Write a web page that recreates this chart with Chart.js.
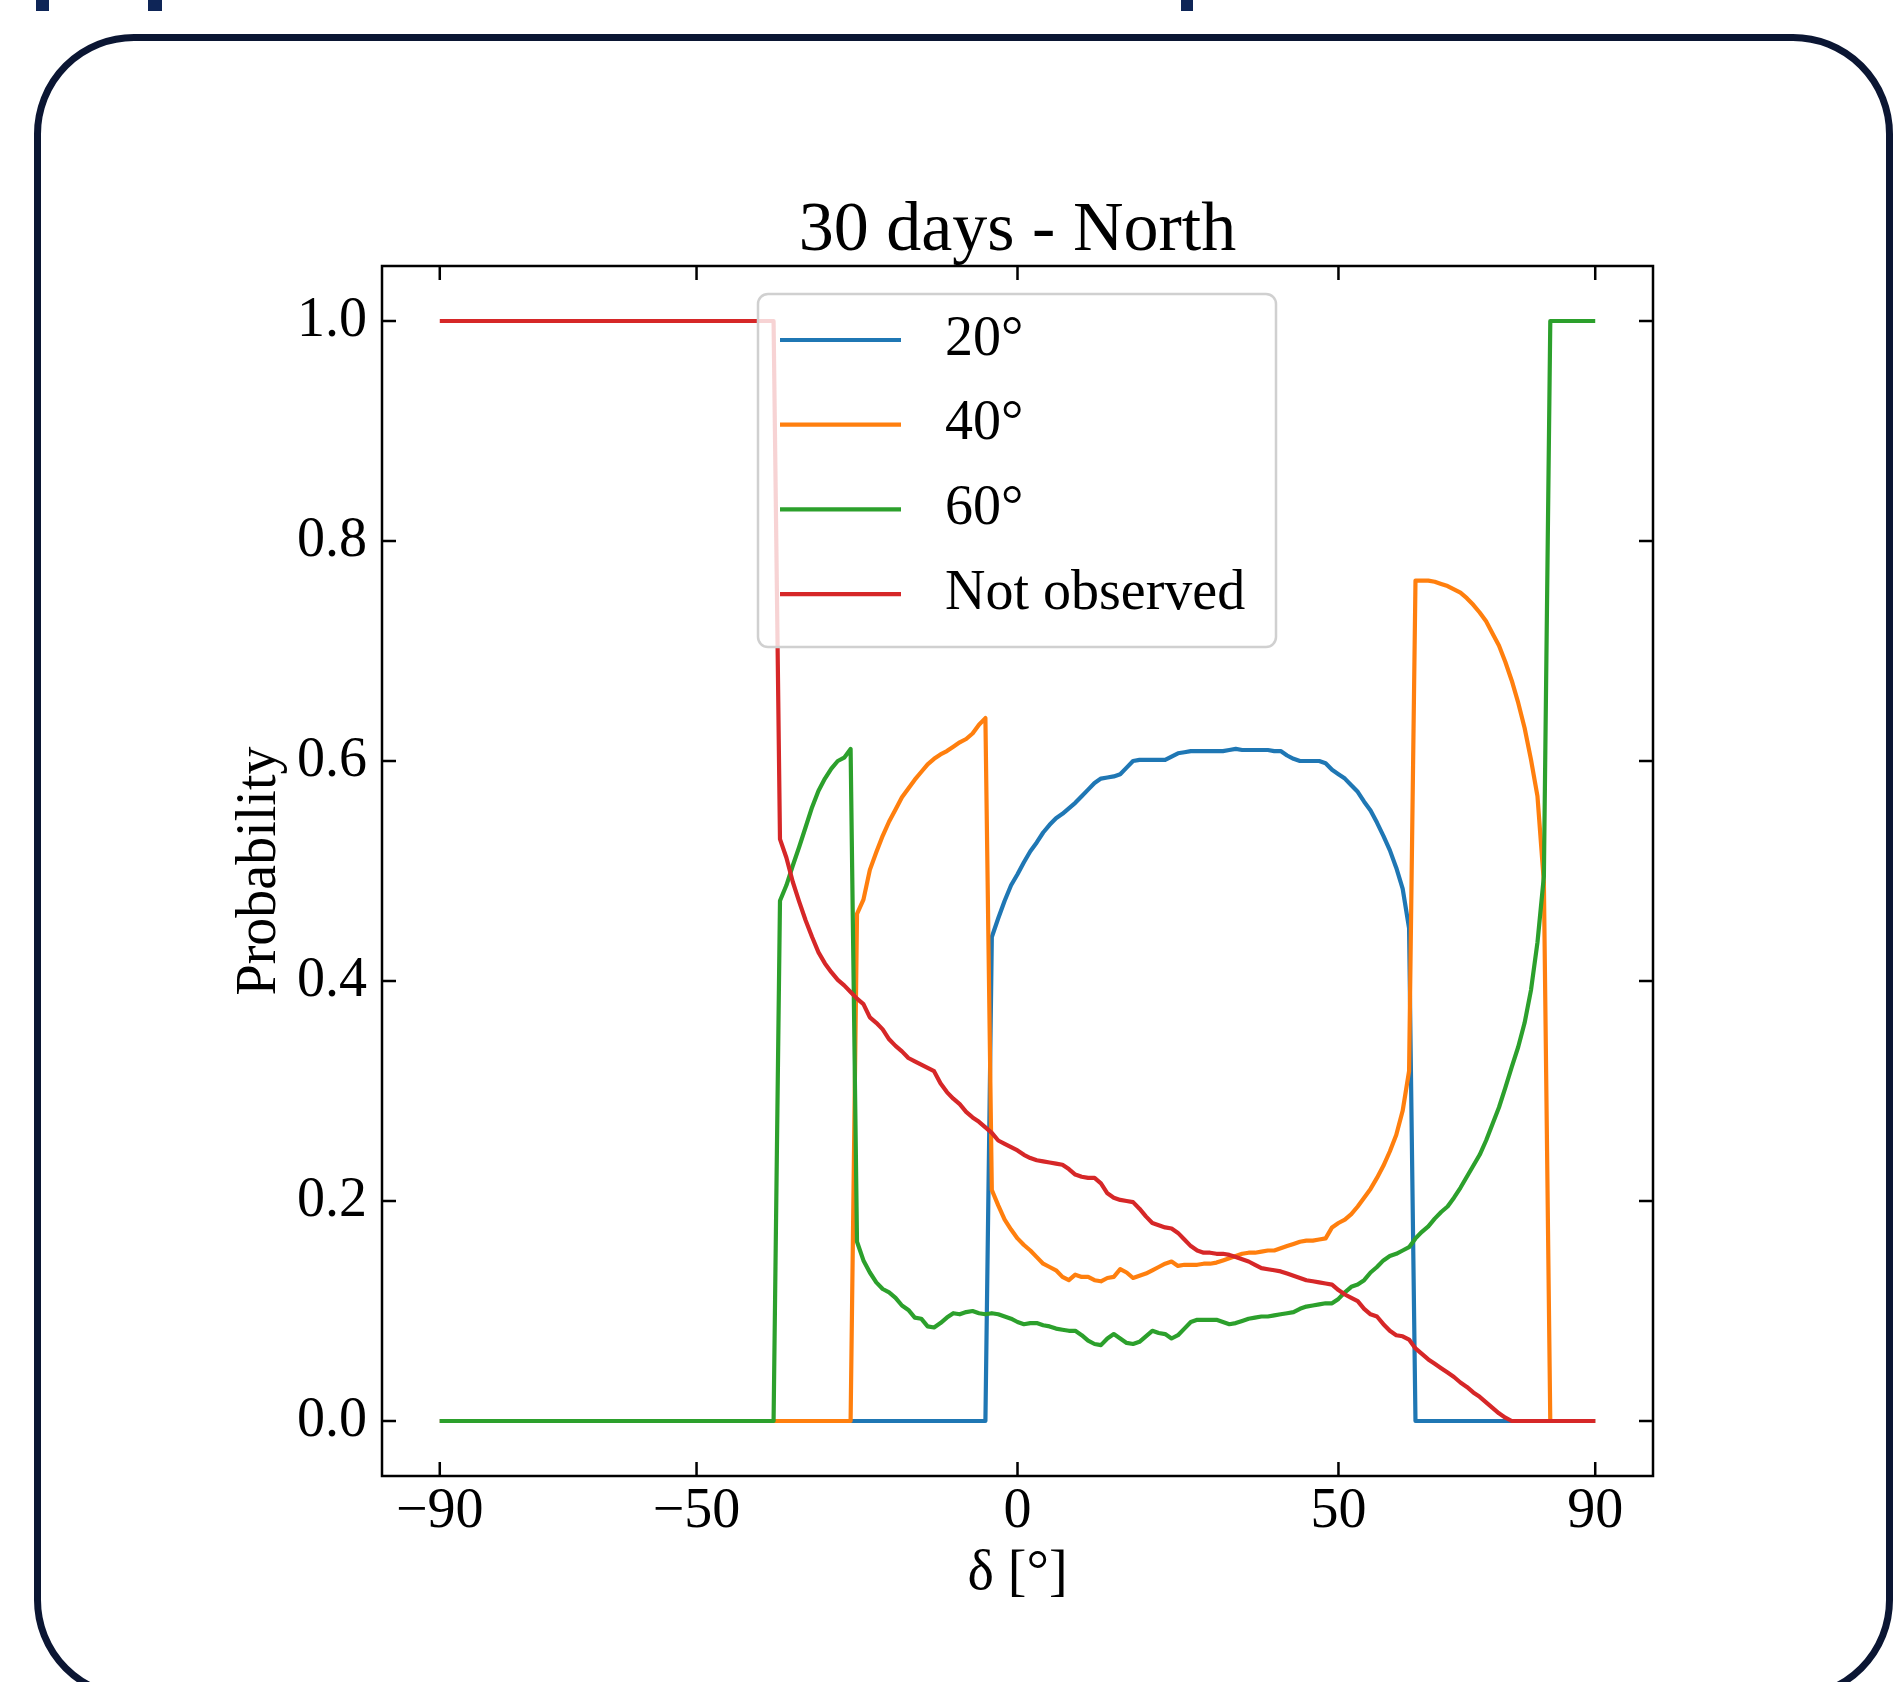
<!DOCTYPE html>
<html>
<head>
<meta charset="utf-8">
<title>30 days - North</title>
<script src="https://cdn.jsdelivr.net/npm/chart.js@4.4.1/dist/chart.umd.min.js"></script>
<style>
    html, body {
        margin: 0;
        padding: 0;
        background: #ffffff;
        width: 1896px;
        height: 1682px;
        overflow: hidden;
    }
    .frame {
        position: absolute;
        left: 34px;
        top: 34px;
        width: 1859px;
        height: 1666px;
        box-sizing: border-box;
        border: 7px solid #0b1633;
        border-radius: 100px;
    }
    .mark {
        position: absolute;
        top: 0;
        height: 11px;
        background: #0e2557;
    }
    #chart {
        position: absolute;
        left: 0;
        top: 0;
    }
</style>
</head>
<body>
<div class="mark" style="left: 36px; width: 13px;"></div>
<div class="mark" style="left: 148px; width: 14px;"></div>
<div class="mark" style="left: 1181px; width: 12px;"></div>
<div class="frame"></div>
<canvas id="chart" width="1896" height="1682"></canvas>
<script>
// declination grid, one point per degree
const declination = [
    -90, -89, -88, -87, -86, -85, -84, -83, -82, -81,
    -80, -79, -78, -77, -76, -75, -74, -73, -72, -71,
    -70, -69, -68, -67, -66, -65, -64, -63, -62, -61,
    -60, -59, -58, -57, -56, -55, -54, -53, -52, -51,
    -50, -49, -48, -47, -46, -45, -44, -43, -42, -41,
    -40, -39, -38, -37, -36, -35, -34, -33, -32, -31,
    -30, -29, -28, -27, -26, -25, -24, -23, -22, -21,
    -20, -19, -18, -17, -16, -15, -14, -13, -12, -11,
    -10, -9, -8, -7, -6, -5, -4, -3, -2, -1,
    0, 1, 2, 3, 4, 5, 6, 7, 8, 9,
    10, 11, 12, 13, 14, 15, 16, 17, 18, 19,
    20, 21, 22, 23, 24, 25, 26, 27, 28, 29,
    30, 31, 32, 33, 34, 35, 36, 37, 38, 39,
    40, 41, 42, 43, 44, 45, 46, 47, 48, 49,
    50, 51, 52, 53, 54, 55, 56, 57, 58, 59,
    60, 61, 62, 63, 64, 65, 66, 67, 68, 69,
    70, 71, 72, 73, 74, 75, 76, 77, 78, 79,
    80, 81, 82, 83, 84, 85, 86, 87, 88, 89,
    90,
];

const prob20 = [
    0, 0, 0, 0, 0, 0, 0, 0, 0, 0,
    0, 0, 0, 0, 0, 0, 0, 0, 0, 0,
    0, 0, 0, 0, 0, 0, 0, 0, 0, 0,
    0, 0, 0, 0, 0, 0, 0, 0, 0, 0,
    0, 0, 0, 0, 0, 0, 0, 0, 0, 0,
    0, 0, 0, 0, 0, 0, 0, 0, 0, 0,
    0, 0, 0, 0, 0, 0, 0, 0, 0, 0,
    0, 0, 0, 0, 0, 0, 0, 0, 0, 0,
    0, 0, 0, 0, 0, 0, 0.440, 0.457, 0.473, 0.487,
    0.497, 0.508, 0.518, 0.526, 0.535, 0.542, 0.548, 0.552, 0.557, 0.562,
    0.568, 0.574, 0.580, 0.584, 0.585, 0.586, 0.588, 0.594, 0.600, 0.601,
    0.601, 0.601, 0.601, 0.601, 0.604, 0.607, 0.608, 0.609, 0.609, 0.609,
    0.609, 0.609, 0.609, 0.610, 0.611, 0.610, 0.610, 0.610, 0.610, 0.610,
    0.609, 0.609, 0.605, 0.602, 0.600, 0.600, 0.600, 0.600, 0.598, 0.592,
    0.588, 0.584, 0.578, 0.572, 0.563, 0.555, 0.544, 0.532, 0.519, 0.503,
    0.484, 0.448, 0, 0, 0, 0, 0, 0, 0, 0,
    0, 0, 0, 0, 0, 0, 0, 0, 0, 0,
    0, 0, 0, 0, 0, 0, 0, 0, 0, 0,
    0,
];

const prob40 = [
    0, 0, 0, 0, 0, 0, 0, 0, 0, 0,
    0, 0, 0, 0, 0, 0, 0, 0, 0, 0,
    0, 0, 0, 0, 0, 0, 0, 0, 0, 0,
    0, 0, 0, 0, 0, 0, 0, 0, 0, 0,
    0, 0, 0, 0, 0, 0, 0, 0, 0, 0,
    0, 0, 0, 0, 0, 0, 0, 0, 0, 0,
    0, 0, 0, 0, 0, 0.461, 0.474, 0.501, 0.517, 0.532,
    0.545, 0.556, 0.567, 0.575, 0.583, 0.590, 0.597, 0.602, 0.606, 0.609,
    0.613, 0.617, 0.620, 0.625, 0.633, 0.639, 0.210, 0.196, 0.183, 0.174,
    0.166, 0.160, 0.155, 0.149, 0.143, 0.140, 0.137, 0.131, 0.128, 0.133,
    0.131, 0.131, 0.128, 0.127, 0.130, 0.131, 0.138, 0.135, 0.130, 0.132,
    0.134, 0.137, 0.140, 0.143, 0.145, 0.141, 0.142, 0.142, 0.142, 0.143,
    0.143, 0.144, 0.146, 0.148, 0.150, 0.152, 0.153, 0.153, 0.154, 0.155,
    0.155, 0.157, 0.159, 0.161, 0.163, 0.164, 0.164, 0.165, 0.166, 0.176,
    0.180, 0.183, 0.188, 0.195, 0.203, 0.211, 0.221, 0.232, 0.245, 0.260,
    0.282, 0.318, 0.764, 0.764, 0.764, 0.763, 0.761, 0.759, 0.756, 0.753,
    0.748, 0.742, 0.735, 0.727, 0.716, 0.705, 0.690, 0.673, 0.653, 0.630,
    0.601, 0.568, 0.490, 0, 0, 0, 0, 0, 0, 0,
    0,
];

const prob60 = [
    0, 0, 0, 0, 0, 0, 0, 0, 0, 0,
    0, 0, 0, 0, 0, 0, 0, 0, 0, 0,
    0, 0, 0, 0, 0, 0, 0, 0, 0, 0,
    0, 0, 0, 0, 0, 0, 0, 0, 0, 0,
    0, 0, 0, 0, 0, 0, 0, 0, 0, 0,
    0, 0, 0, 0.473, 0.487, 0.505, 0.522, 0.540, 0.558, 0.573,
    0.584, 0.593, 0.600, 0.603, 0.611, 0.163, 0.146, 0.135, 0.126, 0.120,
    0.117, 0.112, 0.105, 0.101, 0.094, 0.093, 0.086, 0.085, 0.089, 0.094,
    0.098, 0.097, 0.099, 0.100, 0.098, 0.097, 0.098, 0.097, 0.095, 0.093,
    0.090, 0.088, 0.089, 0.089, 0.087, 0.086, 0.084, 0.083, 0.082, 0.082,
    0.078, 0.073, 0.070, 0.069, 0.075, 0.079, 0.075, 0.071, 0.070, 0.072,
    0.077, 0.082, 0.080, 0.079, 0.075, 0.078, 0.084, 0.090, 0.092, 0.092,
    0.092, 0.092, 0.090, 0.088, 0.089, 0.091, 0.093, 0.094, 0.095, 0.095,
    0.096, 0.097, 0.098, 0.099, 0.102, 0.104, 0.105, 0.106, 0.107, 0.107,
    0.111, 0.117, 0.122, 0.124, 0.128, 0.135, 0.140, 0.146, 0.150, 0.152,
    0.155, 0.158, 0.166, 0.172, 0.177, 0.184, 0.190, 0.195, 0.203, 0.212,
    0.222, 0.232, 0.242, 0.255, 0.270, 0.285, 0.303, 0.322, 0.340, 0.362,
    0.392, 0.435, 0.495, 1, 1, 1, 1, 1, 1, 1,
    1,
];

const probNotObserved = [
    1, 1, 1, 1, 1, 1, 1, 1, 1, 1,
    1, 1, 1, 1, 1, 1, 1, 1, 1, 1,
    1, 1, 1, 1, 1, 1, 1, 1, 1, 1,
    1, 1, 1, 1, 1, 1, 1, 1, 1, 1,
    1, 1, 1, 1, 1, 1, 1, 1, 1, 1,
    1, 1, 1, 0.529, 0.512, 0.490, 0.472, 0.455, 0.440, 0.426,
    0.416, 0.408, 0.401, 0.396, 0.390, 0.384, 0.379, 0.367, 0.362, 0.356,
    0.347, 0.341, 0.336, 0.330, 0.327, 0.324, 0.321, 0.318, 0.307, 0.299,
    0.293, 0.288, 0.281, 0.276, 0.272, 0.267, 0.262, 0.255, 0.252, 0.249,
    0.246, 0.242, 0.239, 0.237, 0.236, 0.235, 0.234, 0.233, 0.229, 0.224,
    0.222, 0.221, 0.221, 0.216, 0.207, 0.203, 0.201, 0.200, 0.199, 0.193,
    0.186, 0.180, 0.178, 0.176, 0.175, 0.171, 0.165, 0.159, 0.155, 0.153,
    0.153, 0.152, 0.152, 0.151, 0.149, 0.147, 0.145, 0.142, 0.139, 0.138,
    0.137, 0.136, 0.134, 0.132, 0.130, 0.128, 0.127, 0.126, 0.125, 0.124,
    0.119, 0.115, 0.112, 0.109, 0.102, 0.097, 0.095, 0.088, 0.082, 0.078,
    0.077, 0.074, 0.066, 0.061, 0.056, 0.052, 0.048, 0.044, 0.040, 0.035,
    0.031, 0.026, 0.022, 0.017, 0.012, 0.007, 0.003, 0, 0, 0,
    0, 0, 0, 0, 0, 0, 0, 0, 0, 0,
    0,
];

const seriesLabels = ["20°", "40°", "60°", "Not observed"];
const seriesColors = ["#1f77b4", "#ff7f0e", "#2ca02c", "#d62728"];
const xTicks = [-90, -50, 0, 50, 90];
const yTicks = [0, 0.2, 0.4, 0.6, 0.8, 1.0];

const fontFamily = "'Liberation Serif', 'Times New Roman', serif";
Chart.defaults.font.family = fontFamily;
Chart.defaults.color = "#000000";

function toPoints(values) {
    return declination.map((d, i) => ({ x: d, y: values[i] }));
}

// matplotlib style spines with inward ticks on all four sides
const axesFrame = {
    id: "axesFrame",
    afterDraw(chart) {
        const { ctx, chartArea: a, scales } = chart;
        const tickLen = 14;
        ctx.save();
        ctx.strokeStyle = "#000000";
        ctx.lineWidth = 2.5;
        ctx.strokeRect(a.left, a.top, a.right - a.left, a.bottom - a.top);
        ctx.beginPath();
        xTicks.forEach((v) => {
            const px = scales.x.getPixelForValue(v);
            ctx.moveTo(px, a.bottom);
            ctx.lineTo(px, a.bottom - tickLen);
            ctx.moveTo(px, a.top);
            ctx.lineTo(px, a.top + tickLen);
        });
        yTicks.forEach((v) => {
            const py = scales.y.getPixelForValue(v);
            ctx.moveTo(a.left, py);
            ctx.lineTo(a.left + tickLen, py);
            ctx.moveTo(a.right, py);
            ctx.lineTo(a.right - tickLen, py);
        });
        ctx.stroke();
        ctx.restore();
    },
};

// legend box inside the plot, like matplotlib's
const legendBox = {
    id: "legendBox",
    afterDraw(chart) {
        const { ctx, chartArea: a } = chart;
        const left = a.left + 376;
        const top = a.top + 28;
        const w = 518;
        const h = 353;
        ctx.save();
        ctx.beginPath();
        ctx.roundRect(left, top, w, h, 10);
        ctx.fillStyle = "rgba(255, 255, 255, 0.8)";
        ctx.fill();
        ctx.strokeStyle = "#d0d0d0";
        ctx.lineWidth = 2.5;
        ctx.stroke();

        ctx.font = "56px " + fontFamily;
        ctx.textAlign = "left";
        ctx.textBaseline = "middle";
        chart.data.datasets.forEach((ds, i) => {
            const y = top + 46 + i * 84.7;
            ctx.beginPath();
            ctx.strokeStyle = ds.borderColor;
            ctx.lineWidth = 4.2;
            ctx.moveTo(left + 22, y);
            ctx.lineTo(left + 143, y);
            ctx.stroke();
            ctx.fillStyle = "#000000";
            ctx.fillText(ds.label, left + 187, y);
        });
        ctx.restore();
    },
};

const datasets = [prob20, prob40, prob60, probNotObserved].map((values, i) => ({
    label: seriesLabels[i],
    data: toPoints(values),
    borderColor: seriesColors[i],
    backgroundColor: seriesColors[i],
    order: 3 - i,
}));

const ctx = document.querySelector("#chart");

new Chart(ctx, {
    type: "line",
    data: { datasets: datasets },
    options: {
        responsive: false,
        animation: false,
        devicePixelRatio: 1,
        layout: {
            autoPadding: false,
            // left padding = plot left edge, so the title centres over the plot
            padding: { left: 382, top: 0, right: 243, bottom: 0 },
        },
        elements: {
            point: { radius: 0 },
            line: { borderWidth: 4.2, tension: 0, borderJoinStyle: "round", fill: false },
        },
        plugins: {
            legend: { display: false },
            tooltip: { enabled: false },
            title: {
                display: true,
                text: "30 days - North",
                color: "#000000",
                font: { size: 70, weight: "normal", lineHeight: 1 },
                padding: { top: 197, bottom: -1 },
            },
        },
        scales: {
            x: {
                type: "linear",
                min: -99,
                max: 99,
                afterBuildTicks: (scale) => {
                    scale.ticks = xTicks.map((v) => ({ value: v }));
                },
                afterFit: (scale) => {
                    scale.height = 206;
                },
                grid: { display: false, drawTicks: false },
                border: { display: false },
                ticks: {
                    padding: 8,
                    maxRotation: 0,
                    font: { size: 56, lineHeight: 1 },
                    color: "#000000",
                    callback: (v) => (v < 0 ? "\u2212" + Math.abs(v) : String(v)),
                },
                title: {
                    display: true,
                    text: "δ [°]",
                    color: "#000000",
                    font: { size: 56, lineHeight: 1 },
                    padding: { top: 0, bottom: 80 },
                },
            },
            y: {
                type: "linear",
                min: -0.05,
                max: 1.05,
                afterBuildTicks: (scale) => {
                    scale.ticks = yTicks.map((v) => ({ value: v }));
                },
                afterFit: (scale) => {
                    scale.width = 0;
                },
                grid: { display: false, drawTicks: false },
                border: { display: false },
                ticks: {
                    // mirrored labels are not clipped to the zero-width axis box;
                    // negative padding puts them back on the outside of the plot
                    mirror: true,
                    padding: -85,
                    font: { size: 56, lineHeight: 1 },
                    color: "#000000",
                    callback: (v) => Number(v).toFixed(1),
                },
                title: {
                    display: true,
                    text: "Probability",
                    color: "#000000",
                    font: { size: 56, lineHeight: 1 },
                    padding: { top: -150, bottom: 0 },
                },
            },
        },
    },
    plugins: [axesFrame, legendBox],
});
</script>
</body>
</html>
